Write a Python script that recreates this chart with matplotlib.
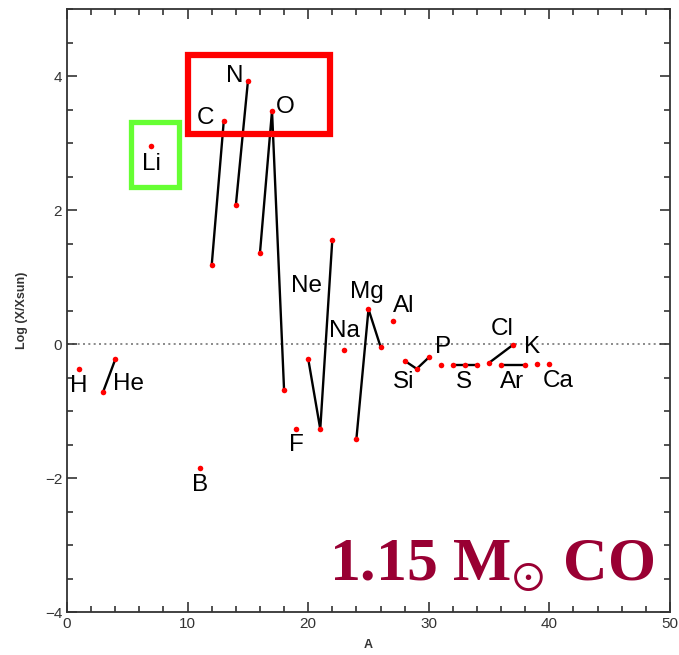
import matplotlib.pyplot as plt
import matplotlib.patches as mpatches
from matplotlib.ticker import MultipleLocator

plt.rcParams['font.family'] = ['Liberation Sans', 'DejaVu Sans']
plt.rcParams['mathtext.fontset'] = 'stix'

# isotope mass number, log abundance relative to solar, element
mass = [1, 3, 4, 7, 11, 12, 13, 14, 15, 16, 17, 18, 19, 20, 21, 22, 23,
        24, 25, 26, 27, 28, 29, 30, 31, 32, 33, 34, 35, 36, 37, 38, 39, 40]
logx = [-0.37, -0.71, -0.23, 2.96, -1.85, 1.18, 3.33, 2.07, 3.92, 1.36, 3.48,
        -0.69, -1.27, -0.22, -1.27, 1.56, -0.09, -1.41, 0.52, -0.04, 0.35,
        -0.25, -0.37, -0.20, -0.31, -0.31, -0.31, -0.31, -0.28, -0.31, -0.01,
        -0.31, -0.30, -0.30]
elem = ['H', 'He', 'He', 'Li', 'B', 'C', 'C', 'N', 'N', 'O', 'O', 'O', 'F',
        'Ne', 'Ne', 'Ne', 'Na', 'Mg', 'Mg', 'Mg', 'Al', 'Si', 'Si', 'Si', 'P',
        'S', 'S', 'S', 'Cl', 'Ar', 'Cl', 'Ar', 'K', 'Ca']

# element label names and where they sit
lab_names = ['H', 'He', 'Li', 'B', 'C', 'N', 'O', 'F', 'Ne', 'Na', 'Mg', 'Al',
             'Si', 'P', 'S', 'Cl', 'K', 'Ar', 'Ca']
lab_x = [1.0, 5.1, 7.0, 11.0, 11.5, 13.9, 18.1, 19.0, 19.9, 23.0, 24.9, 27.9,
         27.9, 31.2, 32.9, 36.1, 38.6, 36.9, 40.7]
lab_y = [-0.62, -0.60, 2.69, -2.10, 3.38, 4.00, 3.54, -1.51, 0.86, 0.20, 0.78,
         0.57, -0.56, -0.04, -0.56, 0.22, -0.05, -0.56, -0.55]

fig = plt.figure(figsize=(6.79, 6.55), dpi=100)
ax = fig.add_axes([0.0987, 0.0656, 0.888, 0.9206])

ax.axhline(0, color='#777777', lw=1.2, ls=(0, (1.2, 2)), zorder=1)

# connect isotopes of the same element
done = []
for e in elem:
    if e in done:
        continue
    done.append(e)
    xs = [m for m, el in zip(mass, elem) if el == e]
    ys = [v for v, el in zip(logx, elem) if el == e]
    if len(xs) > 1:
        ax.plot(xs, ys, color='black', lw=1.7, zorder=2)

ax.plot(mass, logx, 'o', color='red', ms=4, mec='none', zorder=3)

for n, x, y in zip(lab_names, lab_x, lab_y):
    ax.text(x, y, n, fontsize=17.5, ha='center', va='center', zorder=4)

ax.add_patch(mpatches.Rectangle((10.02, 3.14), 11.75, 1.17, fill=False,
                                ec='#ff0000', lw=4.5, zorder=5))
ax.add_patch(mpatches.Rectangle((5.29, 2.35), 4.01, 0.96, fill=False,
                                ec='#66ff33', lw=3.8, zorder=5))

ax.text(21.75, -3.52, r'1.15 M$_{\odot}$ CO', fontsize=44.5, color='#990033',
        family='Liberation Serif', weight='bold', ha='left', va='baseline')

ax.set_xlim(0, 50)
ax.set_ylim(-4, 5)
ax.xaxis.set_major_locator(MultipleLocator(10))
ax.xaxis.set_minor_locator(MultipleLocator(2))
ax.yaxis.set_major_locator(MultipleLocator(2))
ax.yaxis.set_minor_locator(MultipleLocator(0.5))
ax.tick_params(which='both', direction='in', top=True, right=True,
               width=1.2, color='#333333')
ax.tick_params(which='major', length=7, labelsize=11, labelcolor='#333333')
ax.tick_params(which='minor', length=4.5)
for s in ax.spines.values():
    s.set_linewidth(1.3)
    s.set_color('#333333')

ax.set_xlabel('A', fontsize=9, color='#333333', labelpad=6, weight='bold')
ax.set_ylabel('Log (X/Xsun)', fontsize=9, color='#333333', labelpad=12,
              weight='bold')

fig.savefig('out.png', dpi=100)
